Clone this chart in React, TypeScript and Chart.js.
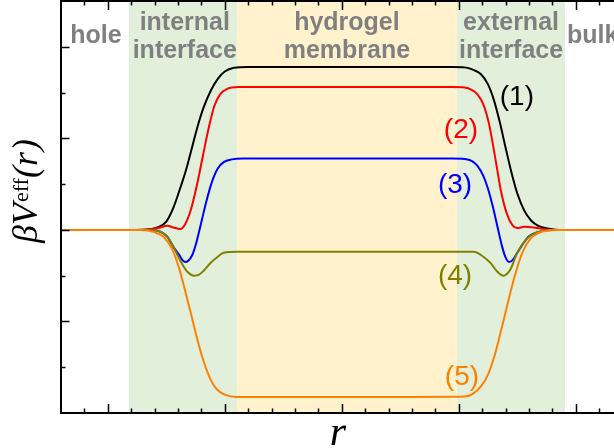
import React, { useEffect, useRef } from 'react';
import { Chart, registerables } from 'chart.js';
Chart.register(...registerables);

// ---- data (r in arbitrary units, βV_eff) ----
const r1 = [0.6, 1.2, 1.34, 1.43, 1.5, 1.56, 1.62, 1.67, 1.72, 1.77, 1.82, 1.88, 1.94, 2.0, 2.08, 2.2, 3.0, 3.95, 4.05, 4.12, 4.19, 4.25, 4.3, 4.35, 4.4, 4.45, 4.5, 4.56, 4.62, 4.68, 4.76, 4.85, 5.33];
const v1 = [0, 0, 0.005, 0.03, 0.09, 0.24, 0.46, 0.66, 0.9, 1.14, 1.34, 1.52, 1.65, 1.73, 1.77, 1.78, 1.78, 1.78, 1.775, 1.75, 1.7, 1.59, 1.42, 1.18, 0.9, 0.63, 0.4, 0.21, 0.1, 0.045, 0.015, 0, 0];

const r2 = [0.6, 1.2, 1.34, 1.43, 1.51, 1.56, 1.62, 1.66, 1.71, 1.76, 1.81, 1.86, 1.91, 1.96, 2.02, 2.12, 3.0, 3.95, 4.05, 4.11, 4.16, 4.21, 4.26, 4.31, 4.36, 4.41, 4.46, 4.5, 4.56, 4.62, 4.7, 4.79, 5.33];
const v2 = [0, 0, 0.005, 0.02, 0.045, 0.027, 0.01, 0.06, 0.22, 0.48, 0.79, 1.1, 1.35, 1.48, 1.54, 1.56, 1.56, 1.56, 1.555, 1.53, 1.48, 1.37, 1.15, 0.8, 0.43, 0.18, 0.05, 0.02, 0.033, 0.03, 0.015, 0, 0];

const r3 = [0.6, 1.2, 1.34, 1.43, 1.51, 1.56, 1.61, 1.65, 1.67, 1.69, 1.72, 1.75, 1.78, 1.81, 1.84, 1.87, 1.9, 1.94, 1.99, 2.06, 2.15, 3.0, 3.95, 4.05, 4.11, 4.16, 4.21, 4.25, 4.29, 4.33, 4.37, 4.4, 4.43, 4.46, 4.5, 4.55, 4.6, 4.68, 4.79, 5.33];
const v3 = [0, 0, 0, -0.011, -0.076, -0.185, -0.272, -0.345, -0.35, -0.335, -0.28, -0.17, -0.02, 0.14, 0.3, 0.44, 0.56, 0.67, 0.74, 0.77, 0.78, 0.78, 0.78, 0.775, 0.755, 0.7, 0.59, 0.45, 0.26, 0.04, -0.18, -0.3, -0.35, -0.33, -0.25, -0.15, -0.07, -0.022, 0, 0];

const r4 = [0.6, 1.2, 1.34, 1.43, 1.51, 1.56, 1.62, 1.68, 1.74, 1.78, 1.82, 1.88, 1.94, 1.99, 2.11, 3.0, 3.85, 4.13, 4.21, 4.27, 4.33, 4.38, 4.44, 4.5, 4.59, 4.68, 4.79, 5.33];
const v4 = [0, 0, 0, -0.011, -0.076, -0.185, -0.337, -0.457, -0.5, -0.489, -0.446, -0.359, -0.293, -0.25, -0.239, -0.239, -0.239, -0.239, -0.293, -0.359, -0.457, -0.5, -0.435, -0.25, -0.087, -0.022, 0, 0];

const r5 = [0.6, 1.2, 1.28, 1.4, 1.48, 1.55, 1.61, 1.66, 1.71, 1.76, 1.81, 1.87, 1.93, 2.0, 2.1, 3.0, 3.95, 4.05, 4.12, 4.19, 4.25, 4.3, 4.35, 4.4, 4.45, 4.5, 4.55, 4.61, 4.68, 4.78, 4.85, 5.33];
const v5 = [0, 0, 0, -0.025, -0.08, -0.21, -0.42, -0.66, -0.91, -1.17, -1.4, -1.61, -1.74, -1.8, -1.825, -1.826, -1.822, -1.82, -1.79, -1.71, -1.58, -1.4, -1.16, -0.9, -0.64, -0.41, -0.23, -0.1, -0.035, -0.005, 0, 0];

const seriesNames = ['(1)', '(2)', '(3)', '(4)', '(5)'];
const seriesColors = ['#000000', '#ff0000', '#0000ff', '#808000', '#ff8000'];

// shaded regions: [from r, to r, colour]
const regionFrom = [1.181, 2.104, 3.985];
const regionTo = [2.104, 3.985, 4.908];
const regionColors = ['#e2efda', '#fff2cc', '#e2efda'];

// region captions
const captionText = [['hole'], ['internal', 'interface'], ['hydrogel', 'membrane'], ['external', 'interface'], ['bulk']];
const captionR = [0.899, 1.658, 3.044, 4.447, 4.925];

// curve label anchors
const labelR = [4.497, 4.019, 3.968, 3.968, 4.027];
const labelV = [1.45, 1.09, 0.49, -0.51, -1.61];

const X_MIN = 0.6, X_MAX = 5.327, Y_MIN = -2, Y_MAX = 2.5;

const zip = (xs: number[], ys: number[]) => xs.map((x, i) => ({ x, y: ys[i] }));

const decorPlugin = {
  id: 'decor',
  beforeDatasetsDraw(chart: any) {
    const { ctx, chartArea: a, scales } = chart;
    const xs = scales.x, ys = scales.y;
    ctx.save();
    for (let i = 0; i < regionFrom.length; i++) {
      const x0 = xs.getPixelForValue(regionFrom[i]);
      const x1 = xs.getPixelForValue(regionTo[i]);
      ctx.fillStyle = regionColors[i];
      ctx.fillRect(x0, a.top - 1, x1 - x0, a.bottom - a.top + 1);
    }
    ctx.fillStyle = '#808080';
    ctx.font = 'bold 25px "Liberation Sans", Arial, sans-serif';
    ctx.textBaseline = 'alphabetic';
    for (let i = 0; i < captionText.length; i++) {
      const lines = captionText[i];
      const px = xs.getPixelForValue(captionR[i]);
      ctx.textAlign = i === captionText.length - 1 ? 'left' : 'center';
      if (lines.length === 1) {
        ctx.fillText(lines[0], px, ys.getPixelForValue(2.04));
      } else {
        ctx.fillText(lines[0], px, ys.getPixelForValue(2.18));
        ctx.fillText(lines[1], px, ys.getPixelForValue(1.875));
      }
    }
    ctx.restore();
  },
  afterDatasetsDraw(chart: any) {
    const { ctx, chartArea: a, scales } = chart;
    const xs = scales.x, ys = scales.y;
    ctx.save();
    ctx.font = '28px "Liberation Sans", Arial, sans-serif';
    ctx.textAlign = 'center';
    ctx.textBaseline = 'middle';
    for (let i = 0; i < seriesNames.length; i++) {
      ctx.fillStyle = seriesColors[i];
      ctx.fillText(seriesNames[i], xs.getPixelForValue(labelR[i]), ys.getPixelForValue(labelV[i]));
    }
    ctx.strokeStyle = '#000';
    ctx.lineWidth = 2;
    ctx.beginPath();
    ctx.moveTo(a.left, a.top);
    ctx.lineTo(a.left, a.bottom);
    ctx.moveTo(a.left - 1, a.bottom);
    ctx.lineTo(a.right + 2, a.bottom);
    ctx.moveTo(a.left - 1, a.top);
    ctx.lineTo(a.right + 2, a.top);
    ctx.stroke();
    ctx.lineWidth = 1.5;
    ctx.beginPath();
    for (let k = Math.ceil(X_MIN / 0.2 - 1e-6); k * 0.2 <= X_MAX + 1e-6; k++) {
      const v = k * 0.2;
      const px = Math.round(xs.getPixelForValue(v)) + 0.5;
      if (px <= a.left + 1) continue;
      const len = k % 5 === 0 ? 9 : 4.5;
      ctx.moveTo(px, a.bottom);
      ctx.lineTo(px, a.bottom - len);
      ctx.moveTo(px, a.top);
      ctx.lineTo(px, a.top + len);
    }
    for (let k = Math.ceil(Y_MIN / 0.5); k * 0.5 <= Y_MAX; k++) {
      const v = k * 0.5;
      const py = Math.round(ys.getPixelForValue(v)) + 0.5;
      if (py >= a.bottom - 1 || py <= a.top + 1) continue;
      const len = k % 2 === 0 ? 8.5 : 4.5;
      ctx.moveTo(a.left, py);
      ctx.lineTo(a.left + len, py);
    }
    ctx.stroke();
    ctx.restore();
  },
  afterDraw(chart: any) {
    const { ctx } = chart;
    ctx.save();
    ctx.fillStyle = '#000';
    ctx.font = 'italic 42px "Liberation Serif", "Times New Roman", serif';
    ctx.textAlign = 'center';
    ctx.textBaseline = 'alphabetic';
    ctx.fillText('r', 338, 445);
    ctx.translate(37, 243);
    ctx.rotate(-Math.PI / 2);
    ctx.textAlign = 'left';
    ctx.font = 'italic 36px "Liberation Serif", "Times New Roman", serif';
    ctx.fillText('βV', 0, 0);
    let w = ctx.measureText('βV').width;
    ctx.font = '22px "Liberation Serif", "Times New Roman", serif';
    ctx.fillText('eff', w + 1, -9);
    w += ctx.measureText('eff').width + 1;
    ctx.font = 'italic 36px "Liberation Serif", "Times New Roman", serif';
    ctx.fillText('(', w, 0);
    w += ctx.measureText('(').width;
    ctx.fillText('r', w, 0);
    w += ctx.measureText('r').width + 1;
    ctx.fillText(')', w, 0);
    ctx.restore();
  },
};

export default function App() {
  const ref = useRef<HTMLCanvasElement>(null);
  useEffect(() => {
    document.body.style.margin = '0';
    const xsArr = [r1, r2, r3, r4, r5];
    const vsArr = [v1, v2, v3, v4, v5];
    const chart = new Chart(ref.current as HTMLCanvasElement, {
      type: 'line',
      data: {
        datasets: seriesNames.map((name, i) => ({
          label: name,
          data: zip(xsArr[i], vsArr[i]),
          borderColor: seriesColors[i],
          backgroundColor: seriesColors[i],
          borderWidth: 2,
          pointRadius: 0,
          fill: false,
          cubicInterpolationMode: 'monotone' as const,
          order: 5 - i,
        })),
      },
      options: {
        responsive: false,
        animation: false,
        layout: { padding: { left: 61, right: 0, top: 1, bottom: 35 } },
        plugins: { legend: { display: false }, tooltip: { enabled: false } },
        scales: {
          x: { type: 'linear', min: X_MIN, max: X_MAX, display: false },
          y: { type: 'linear', min: Y_MIN, max: Y_MAX, display: false },
        },
      },
      plugins: [decorPlugin],
    });
    return () => chart.destroy();
  }, []);
  return (
    <div style={{ position: 'absolute', left: 0, top: 0, width: 614, height: 448 }}>
      <canvas ref={ref} width={614} height={448} style={{ display: 'block' }} />
    </div>
  );
}
